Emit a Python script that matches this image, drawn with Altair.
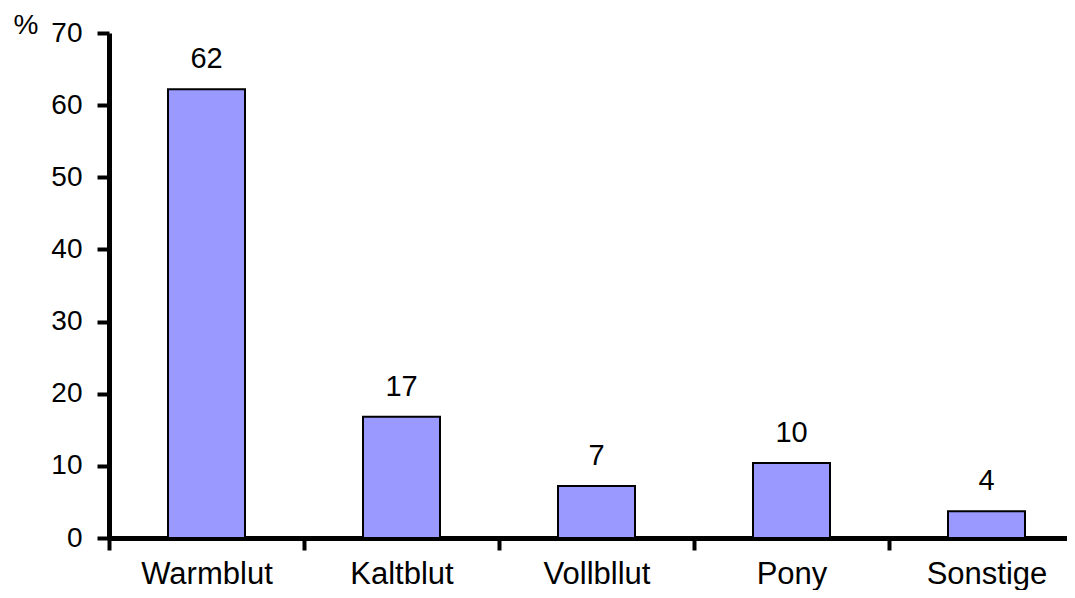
import altair as alt
import pandas as pd

categories = ["Warmblut", "Kaltblut", "Vollbllut", "Pony", "Sonstige"]
values = [62.2, 16.8, 7.2, 10.4, 3.7]

df = pd.DataFrame({"cat": categories, "val": values})

FONT = "Liberation Sans"

x = alt.X(
    "cat:N",
    sort=categories,
    scale=alt.Scale(paddingInner=0, paddingOuter=0, range=[0, 975]),
    axis=alt.Axis(
        title=None,
        grid=False,
        labelAngle=0,
        labelFontSize=31,
        labelFont=FONT,
        labelColor="black",
        labelBaseline="alphabetic",
        labelPadding=33,
        tickBand="extent",
        tickSize=12,
        tickWidth=4,
        tickColor="black",
        domainWidth=5,
        domainColor="black",
    ),
)

y = alt.Y(
    "val:Q",
    scale=alt.Scale(domain=[0, 70], nice=False),
    axis=alt.Axis(
        values=[0, 10, 20, 30, 40, 50, 60, 70],
        grid=False,
        title="%",
        titleAngle=0,
        titleAlign="left",
        titleBaseline="alphabetic",
        titleX=-96,
        titleY=0,
        titleFontSize=28,
        titleFont=FONT,
        titleFontWeight="normal",
        titleColor="black",
        labelFontSize=28,
        labelFont=FONT,
        labelColor="black",
        labelPadding=15,
        tickSize=12,
        tickWidth=4,
        tickColor="black",
        domainWidth=5,
        domainColor="black",
    ),
)

bars = alt.Chart(df).mark_bar(
    size=77, color="#9999FF", stroke="black", strokeWidth=2
).encode(x=x, y=y)

labels = alt.Chart(df).mark_text(
    baseline="alphabetic", dy=-21, fontSize=29, font=FONT, color="black"
).encode(
    x=alt.X("cat:N", sort=categories),
    y=alt.Y("val:Q"),
    text=alt.Text("val:Q", format=".0f"),
)

chart = (
    alt.layer(bars, labels)
    .properties(
        width=958,
        height=505,
        background="white",
        autosize=alt.AutoSizeParams(type="none"),
        padding={"left": 101, "top": 25, "right": 0, "bottom": 52},
    )
    .configure_view(stroke=None)
    .configure_axis(grid=False)
)

chart.save("out.html", embed_options={"renderer": "svg", "actions": False})
